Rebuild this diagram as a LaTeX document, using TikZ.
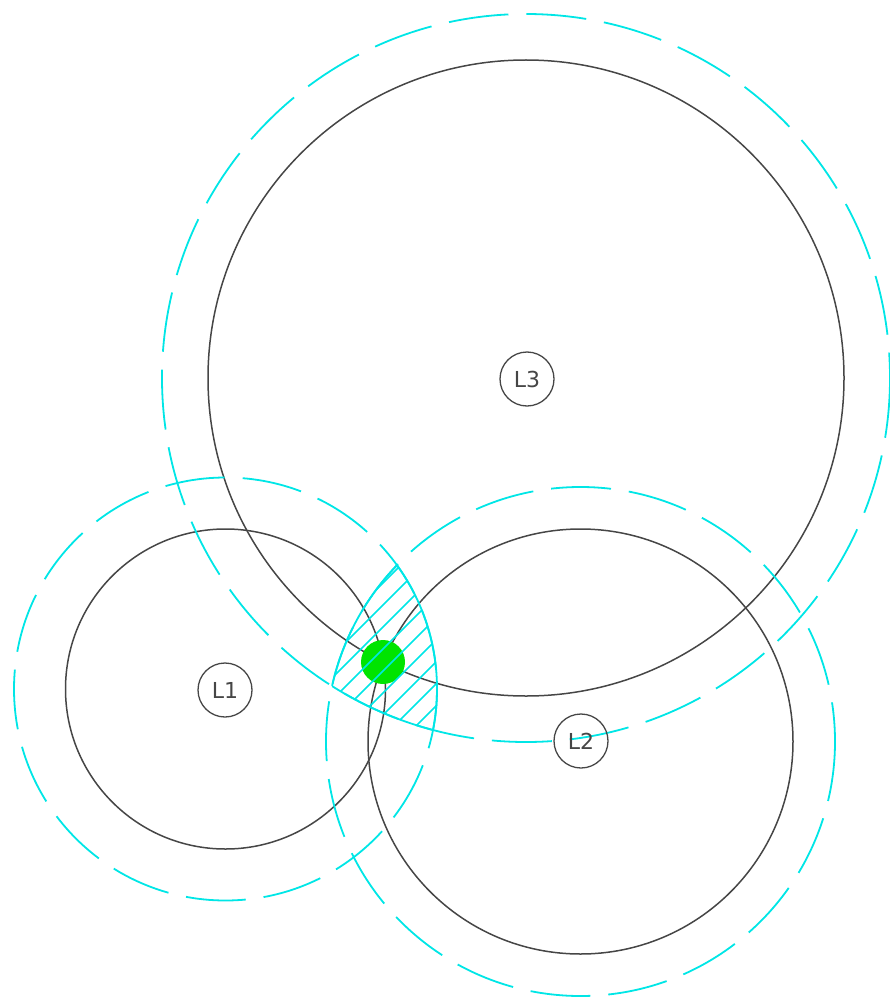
\documentclass[tikz,border=0pt]{standalone}
\usepackage{fontspec}
\setmainfont{DejaVu Sans}
\definecolor{cadcyan}{RGB}{0,230,230}
\definecolor{cadgray}{RGB}{70,70,70}
\definecolor{cadgreen}{RGB}{0,228,0}
\begin{document}
\begin{tikzpicture}[x=1pt,y=-1pt]
\tikzset{
  blackcirc/.style={draw=cadgray,line width=1.5pt},
  dashcirc/.style={draw=cadcyan,line width=1.8pt,dash pattern=on 60pt off 18pt},
  solidcyan/.style={draw=cadcyan,line width=1.8pt},
  hatchline/.style={draw=cadcyan,line width=1.5pt},
  lbl/.style={circle,draw=cadgray,line width=1.3pt,minimum size=54pt,inner sep=0pt,
    text=cadgray,font=\fontsize{22}{22}\selectfont}
}
\useasboundingbox (0,0) rectangle (890,1003);
\coordinate (c1) at (225.5,689);
\coordinate (c2) at (580.5,741.5);
\coordinate (c3) at (526,378);
% black circles
\draw[blackcirc] (c3) circle[radius=318];
\draw[blackcirc] (c1) circle[radius=160];
\draw[blackcirc] (c2) circle[radius=212.5];
% dashed cyan circles
\draw[dashcirc] (c3) circle[radius=364];
\draw[dashcirc] (c1) circle[radius=211.5];
\draw[dashcirc] (c2) circle[radius=254.5];
% green point
\fill[cadgreen] (383,662) circle[radius=22];
% hatched region: intersection of the three dashed discs
\begin{scope}
  \clip (c1) circle[radius=211.5];
  \clip (c2) circle[radius=254.5];
  \clip (c3) circle[radius=364];
  \foreach \c in {944,966,...,1220}
    \draw[hatchline] (290,{\c-290}) -- (470,{\c-470});
\end{scope}
% solid boundary of hatched region
\begin{scope}
  \clip (c1) circle[radius=211.5];
  \clip (c2) circle[radius=254.5];
  \draw[solidcyan] (c3) circle[radius=364];
\end{scope}
\begin{scope}
  \clip (c1) circle[radius=211.5];
  \clip (c3) circle[radius=364];
  \draw[solidcyan] (c2) circle[radius=254.5];
\end{scope}
\begin{scope}
  \clip (c2) circle[radius=254.5];
  \clip (c3) circle[radius=364];
  \draw[solidcyan] (c1) circle[radius=211.5];
\end{scope}
% labels
\node[lbl] (l3) at (527,379) {L3};
\node[lbl] (l1) at (225,690) {L1};
\node[lbl] (l2) at (581,741) {L2};
\end{tikzpicture}
\end{document}
